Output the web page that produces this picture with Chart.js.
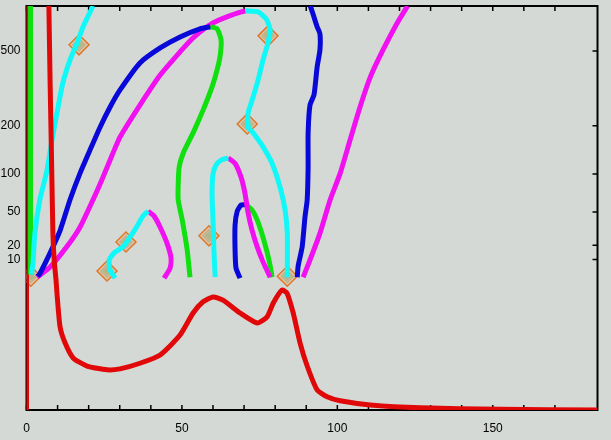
<!DOCTYPE html>
<html lang="en">
<head>
<meta charset="utf-8">
<title>Branch diagram</title>
<style>
  html, body { margin: 0; padding: 0; background: #d5d9d5; }
  #wrapper { width: 611px; height: 440px; }
</style>
</head>
<body>
<div id="wrapper"><canvas id="canvas"></canvas></div>
<script src="https://cdn.jsdelivr.net/npm/chart.js"></script>
<script>
// y axis is drawn on log10(y + SHIFT)
const SHIFT = 52;
const xMax = 183.7, yMin = -39.2, yMax = 833;
const xLabels = [0, 50, 100, 150];
const yLabels = [10, 20, 50, 100, 200, 500];

// curves, [x, y]
const redAxis = [[0, 833], [0, -39.2]];
const greenAxis = [[1.3, 833], [1.3, 1]];
const cyanLeft = [[1.6, 1], [2.1, 7.8], [2.7, 29.6], [4.3, 64], [6.6, 106], [8.2, 165], [9.8, 236], [11.7, 343], [14, 451], [16.3, 549], [18.2, 660], [21.4, 833]];
const redCurve = [[7.2, 833], [7.6, 343], [7.9, 182], [8.2, 85], [8.5, 29.6], [8.9, 9.7], [9.5, -2], [9.8, -8.4], [10.8, -21.4], [12.4, -26.1], [15, -29.9], [19.5, -31.7], [25.9, -32.5], [30.1, -32.3], [36.5, -31.1], [43, -29.2], [49.4, -23.9], [53.6, -16.6], [56.8, -12.2], [60, -10.1], [63.2, -11.5], [68.7, -16.6], [74.2, -20.1], [77.4, -18], [79.4, -12.7], [82.2, -7], [83.8, -8.4], [85.8, -16.6], [88, -26.1], [90.3, -31.7], [93.5, -36.2], [96.7, -37.3], [100.9, -37.9], [110.6, -38.5], [126.7, -38.9], [152.4, -39.1], [183.6, -39.2]];
const blueRise = [[3.6, 0], [4.3, 1.5], [7.6, 14.5], [10.8, 32], [14, 64], [17.2, 101], [20.4, 143], [23.7, 197], [26.9, 255], [30.1, 315], [36.5, 435], [43, 518], [49.4, 588], [55.8, 645], [59.1, 660]];
const greenFold = [[59.1, 660], [61.3, 645], [62.6, 568], [62.3, 473], [61.3, 400], [59.7, 327], [56.8, 245], [53.6, 182], [50.4, 137], [49.1, 111], [48.8, 83], [48.8, 64], [50.1, 42], [51.7, 16.5], [52.6, -0.5]];
const magentaRise = [[3.4, -0.5], [7.6, 5.3], [13, 19], [17.2, 35], [21.4, 64], [24.6, 95], [27.8, 137], [30.1, 172], [36.5, 261], [43, 377], [49.4, 495], [53.6, 582], [60, 689], [65.5, 748], [70.3, 790]];
const cyanLoop = [[70.3, 790], [74.5, 780], [77.1, 721], [78.4, 637], [77.7, 550], [76.1, 451], [74.5, 355], [72.6, 278], [71.3, 236], [71.3, 197], [72.9, 182], [76.1, 150], [79, 118], [81.6, 80], [83.2, 52], [83.9, 29.6], [83.9, 5.3], [83.9, -0.5]];
const blueRight = [[91.3, 833], [92.2, 760], [93.5, 660], [94.4, 610], [94.4, 506], [93.5, 415], [92.5, 297], [91.2, 261], [90.6, 181], [90.6, 111], [90.3, 64], [89.6, 45], [88.7, 19], [87.4, 6], [87.1, -0.5]];
const magentaRight = [[89, -0.5], [91.2, 9.7], [94.4, 29.6], [97.7, 64], [100.9, 101], [104.1, 165], [107.3, 255], [110.6, 368], [114.7, 506], [119.3, 690], [122.6, 833]];
const cyanSmall = [[28.5, -1], [26.9, 3.5], [26.6, 9.7], [28.2, 14.5], [31.1, 19], [33.3, 26.4], [35.6, 36], [37.5, 46], [39.1, 51]];
const magentaSmall = [[39.1, 51], [41, 46], [43, 35], [45.2, 21.6], [46.5, 11], [46.2, 4.7], [44.3, -1]];
const cyanMid = [[60.7, -0.5], [60.3, 16.5], [60, 42], [59.7, 70], [60, 100], [61, 115], [62.6, 124], [64.9, 128]];
const magentaMid = [[64.9, 128], [67.1, 118], [69.1, 94], [70.3, 72], [71.3, 49], [72.6, 32], [74.2, 19], [76.1, 8.5], [78.4, -0.5]];
const blueInner = [[68.7, -1], [67.4, 4.7], [67.1, 16.5], [67.1, 37], [67.8, 51], [69.1, 58], [70.7, 58]];
const greenInner = [[70.7, 58], [72.6, 52], [74.2, 42], [75.9, 28], [77.4, 15], [78.4, 6], [79, -0.5]];
const markers = [[1.4, 0], [16.9, 537], [25.9, 3], [32, 22.5], [58.7, 27.5], [71, 205], [77.7, 595], [83.9, 0]];

const RED = '#e00808', GREEN = '#10e010', CYAN = '#10f8f8', BLUE = '#0808d8', MAGENTA = '#f010f0';

function pts(arr) {
  return arr.map(function (p) { return { x: p[0], y: Math.log10(p[1] + SHIFT) }; });
}
function curve(arr, color) {
  return { data: pts(arr), borderColor: color, borderWidth: 5, showLine: true,
           pointRadius: 0, tension: 0.2, borderJoinStyle: 'round' };
}
function diamond(r, border, fill, bw) {
  return { data: pts(markers), pointStyle: 'rectRot', pointRadius: r, borderWidth: bw,
           borderColor: border, backgroundColor: fill };
}

const frame = {
  id: 'frame',
  beforeDatasetsDraw(chart) {
    const ctx = chart.ctx, a = chart.chartArea, x = chart.scales.x, y = chart.scales.y;
    ctx.save();
    ctx.strokeStyle = '#000';
    ctx.lineWidth = 2;
    ctx.strokeRect(a.left, a.top, a.right - a.left, a.bottom - a.top);
    ctx.lineWidth = 1.5;
    ctx.beginPath();
    x.ticks.forEach(function (t) {
      if (t.value % 10 !== 0) return;
      const px = x.getPixelForValue(t.value);
      ctx.moveTo(px, a.bottom); ctx.lineTo(px, a.bottom - 5);
      ctx.moveTo(px, a.top); ctx.lineTo(px, a.top + 5);
    });
    y.ticks.forEach(function (t) {
      const py = y.getPixelForValue(t.value);
      ctx.moveTo(a.right, py); ctx.lineTo(a.right - 5, py);
    });
    ctx.stroke();
    ctx.restore();
  }
};

const font = { family: "'Liberation Sans', sans-serif", size: 12 };

new Chart(document.getElementById('canvas'), {
  type: 'scatter',
  data: {
    datasets: [
      curve(redCurve, RED),
      curve(cyanLeft, CYAN),
      curve(blueRise, BLUE),
      curve(greenFold, GREEN),
      curve(magentaRise, MAGENTA),
      curve(cyanLoop, CYAN),
      curve(blueRight, BLUE),
      curve(magentaRight, MAGENTA),
      curve(cyanSmall, CYAN),
      curve(magentaSmall, MAGENTA),
      curve(cyanMid, CYAN),
      curve(magentaMid, MAGENTA),
      curve(blueInner, BLUE),
      curve(greenInner, GREEN),
      curve(greenAxis, GREEN),
      curve(redAxis, RED),
      diamond(10, '#e07828', 'rgba(215,185,145,0.55)', 1.5),
      diamond(6.5, 'rgba(200,120,60,0.8)', 'rgba(150,180,135,0.85)', 1),
      diamond(3.5, 'rgba(40,140,110,0.9)', '#28a080', 1)
    ]
  },
  options: {
    responsive: true,
    maintainAspectRatio: false,
    animation: false,
    layout: { autoPadding: false, padding: { top: 6, right: 13.5, left: 0, bottom: 0 } },
    plugins: { legend: { display: false }, tooltip: { enabled: false } },
    scales: {
      x: {
        type: 'linear', min: 0, max: xMax,
        grid: { display: false, drawTicks: false },
        border: { display: false },
        ticks: {
          stepSize: 10, autoSkip: false, maxRotation: 0, padding: 11, color: '#000', font: font,
          callback: function (v) { return xLabels.indexOf(v) >= 0 ? String(v) : ''; }
        },
        afterFit: function (s) { s.height = 30; s.paddingLeft = 0; s.paddingRight = 0; }
      },
      y: {
        type: 'linear', min: Math.log10(yMin + SHIFT), max: Math.log10(yMax + SHIFT),
        grid: { display: false, drawTicks: false },
        border: { display: false },
        afterBuildTicks: function (s) {
          s.ticks = yLabels.map(function (v) { return { value: Math.log10(v + SHIFT) }; });
        },
        ticks: {
          padding: 6, color: '#000', font: font,
          callback: function (v) { return String(Math.round(Math.pow(10, v) - SHIFT)); }
        },
        afterFit: function (s) { s.width = 26.5; s.paddingTop = 0; s.paddingBottom = 0; }
      }
    }
  },
  plugins: [frame]
});
</script>
</body>
</html>
